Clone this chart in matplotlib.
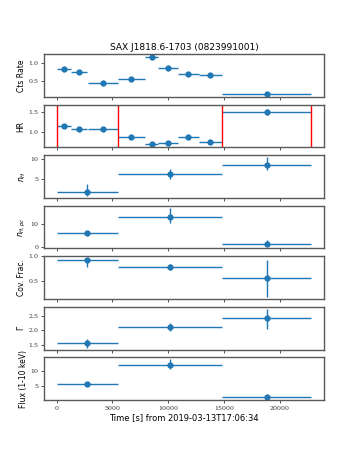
import numpy as np
import matplotlib
matplotlib.use('Agg')
import matplotlib.pyplot as plt

# Light curve bins (count rate and hardness ratio)
lc_t = [660, 2040, 4140, 6690, 8520, 9990, 11790, 13770, 18810]
lc_dt = [660, 720, 1320, 1230, 600, 870, 930, 1050, 3990]
cts_rate = [0.825, 0.73, 0.445, 0.54, 1.16, 0.85, 0.686, 0.667, 0.135]
cts_err = [0.02, 0.02, 0.015, 0.015, 0.03, 0.02, 0.02, 0.02, 0.01]
hr = [1.15, 1.065, 1.06, 0.86, 0.70, 0.725, 0.865, 0.74, 1.5]
hr_err = [0.05, 0.04, 0.04, 0.03, 0.03, 0.03, 0.03, 0.03, 0.08]

# Spectral intervals
sp_edges = [0, 5460, 14820, 22800]
sp_t = [2730, 10140, 18810]
sp_dt = [2730, 4680, 3990]
nh = [1.9, 6.25, 8.6]
nh_lo = [1.0, 1.25, 1.4]
nh_hi = [2.0, 1.25, 1.9]
nh_pc = [6.0, 13.3, 1.2]
nh_pc_lo = [0.7, 3.0, 1.0]
nh_pc_hi = [0.7, 4.0, 2.0]
cov_frac = [0.935, 0.79, 0.56]
cov_lo = [0.15, 0.06, 0.39]
cov_hi = [0.03, 0.06, 0.36]
gamma = [1.57, 2.12, 2.43]
gamma_lo = [0.14, 0.14, 0.37]
gamma_hi = [0.14, 0.14, 0.30]
flux = [5.7, 12.3, 1.1]
flux_lo = [0.3, 1.6, 0.3]
flux_hi = [0.3, 1.9, 0.3]

fig, axes = plt.subplots(7, 1, figsize=(3.6, 4.5), dpi=100, sharex=True)
fig.subplots_adjust(left=0.122, right=0.9, top=0.88, bottom=0.111, hspace=0.18)

ek = dict(fmt='o', color='C0', ms=3.5, lw=1)

axes[0].errorbar(lc_t, cts_rate, xerr=lc_dt, yerr=cts_err, **ek)
axes[0].set_ylim(0.05, 1.24)
axes[0].set_ylabel('Cts Rate')
axes[0].set_title('SAX J1818.6-1703 (0823991001)', fontsize=6.5, pad=3)

axes[1].errorbar(lc_t, hr, xerr=lc_dt, yerr=hr_err, **ek)
for e in sp_edges:
    axes[1].axvline(e, color='red', lw=1)
axes[1].set_ylim(0.61, 1.68)
axes[1].set_ylabel('HR')

axes[2].errorbar(sp_t, nh, xerr=sp_dt, yerr=[nh_lo, nh_hi], **ek)
axes[2].set_ylabel('$n_H$')

axes[3].errorbar(sp_t, nh_pc, xerr=sp_dt, yerr=[nh_pc_lo, nh_pc_hi], **ek)
axes[3].set_ylabel('$n_{H,pc}$')

axes[4].errorbar(sp_t, cov_frac, xerr=sp_dt, yerr=[cov_lo, cov_hi], **ek)
axes[4].set_ylabel('Cov. Frac.')

axes[5].errorbar(sp_t, gamma, xerr=sp_dt, yerr=[gamma_lo, gamma_hi], **ek)
axes[5].set_ylabel(r'$\Gamma$')

axes[6].errorbar(sp_t, flux, xerr=sp_dt, yerr=[flux_lo, flux_hi], **ek)
axes[6].set_ylabel('Flux (1-10 keV)')
axes[6].set_xlabel('Time [s] from 2019-03-13T17:06:34', fontsize=6, labelpad=2)
axes[6].set_xticks([0, 5000, 10000, 15000, 20000])

for ax in axes:
    ax.yaxis.label.set_size(5.5)
    ax.yaxis.labelpad = 2
    ax.tick_params(labelsize=4.5, length=2, width=0.6, pad=2, colors='0.2')
    for lab in ax.get_xticklabels() + ax.get_yticklabels():
        lab.set_family('DejaVu Serif')
    for sp in ax.spines.values():
        sp.set_color('0.35')
        sp.set_linewidth(1)

fig.savefig('out.png', dpi=100)
